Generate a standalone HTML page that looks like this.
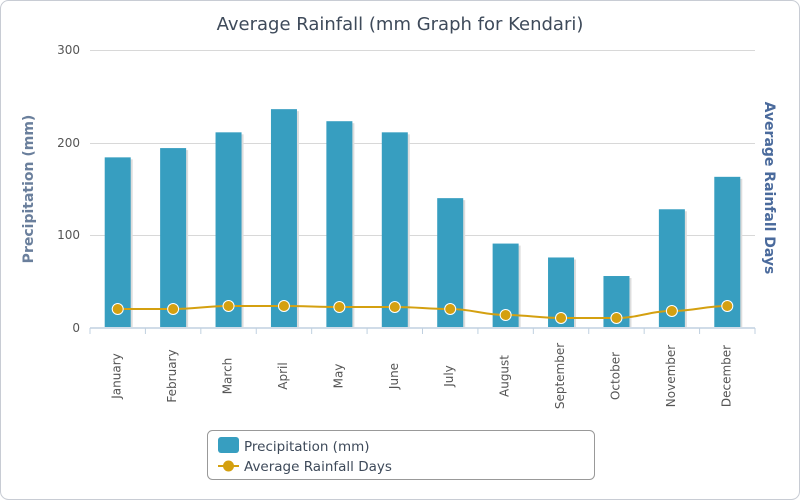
<!DOCTYPE html>
<html><head><style>body{margin:0;background:#fff}svg{display:block;font-family:"DejaVu Sans","Liberation Sans",sans-serif}</style></head><body>
<svg id="s" width="800" height="500" viewBox="0 0 800 500">
<rect x="0.5" y="0.5" width="799" height="499" rx="8" fill="#fff" stroke="#c8ccd4"/>
<text x="400" y="30" text-anchor="middle" font-size="18" fill="#3e4a5a">Average Rainfall (mm Graph for Kendari)</text>
<g stroke="#d8d8d8" stroke-width="1">
<line x1="90" y1="50.5" x2="755" y2="50.5"/><line x1="90" y1="143.5" x2="755" y2="143.5"/><line x1="90" y1="235.5" x2="755" y2="235.5"/>
</g>
<line x1="90" y1="328" x2="755" y2="328" stroke="#c0d0e0" stroke-width="1.5"/>
<g font-size="12" fill="#555" text-anchor="end"><text x="80" y="54">300</text><text x="80" y="147">200</text><text x="80" y="239">100</text><text x="80" y="332">0</text></g>
<text transform="translate(33,189) rotate(-90)" text-anchor="middle" font-size="14" font-weight="bold" fill="#6a7f9c">Precipitation (mm)</text>
<text transform="translate(765,188) rotate(90)" text-anchor="middle" font-size="14" font-weight="bold" fill="#4a6a9c">Average Rainfall Days</text>
<g id="bars"></g>
<g id="ticks" stroke="#c0d0e0"></g>
<g id="labels" font-size="12" fill="#555"></g>
<path id="line" fill="none" stroke="#d4a010" stroke-width="2"/>
<g id="pts"></g>
<rect x="207.5" y="430.5" width="387" height="49" rx="5" fill="#fff" stroke="#999"/>
<rect x="218" y="437" width="21" height="16" rx="3" fill="#379ec0"/>
<text x="244" y="451" font-size="13.5" fill="#3e4a5a">Precipitation (mm)</text>
<line x1="218" y1="466" x2="239" y2="466" stroke="#d4a010" stroke-width="2"/>
<circle cx="228.5" cy="466" r="5.5" fill="#d4a010"/>
<text x="244" y="471" font-size="13.5" fill="#3e4a5a">Average Rainfall Days</text>
</svg>
<script>
var v=[183,193,210,235,222,210,139,90,75,55,127,162],ly=[309,309,306,306,307,307,309,315,318,318,311,306],m=["January","February","March","April","May","June","July","August","September","October","November","December"];
var ns="http://www.w3.org/2000/svg",w=665/12,d="",pts=[];
function el(par,tag,a,txt){var e=document.createElementNS(ns,tag);for(var k in a)e.setAttribute(k,a[k]);if(txt)e.textContent=txt;document.getElementById(par).appendChild(e);}
for(var i=0;i<12;i++){var c=90+w*(i+0.5),h=v[i]*0.927;pts.push([c,ly[i]]);
el("bars","rect",{x:c-11,y:329-h,width:26,height:h-2,fill:"#ddd"});
el("bars","rect",{x:c-13,y:327-h,width:26,height:h,fill:"#379ec0"});
el("ticks","line",{x1:90+w*i,y1:328,x2:90+w*i,y2:334});
el("labels","text",{transform:"translate("+(c+3)+",376) rotate(-90)","text-anchor":"middle"},m[i]);
el("pts","circle",{cx:c,cy:ly[i],r:5.5,fill:"#d4a010",stroke:"#fff","stroke-width":1});}
d="M"+pts[0][0]+","+pts[0][1];
for(var i=1;i<12;i++){var a=pts[i-1],b=pts[i],k=w*0.4;d+=" C"+(a[0]+k)+","+a[1]+" "+(b[0]-k)+","+b[1]+" "+b[0]+","+b[1];}
el("ticks","line",{x1:755,y1:328,x2:755,y2:334});
document.getElementById("line").setAttribute("d",d);
</script>
</body></html>
